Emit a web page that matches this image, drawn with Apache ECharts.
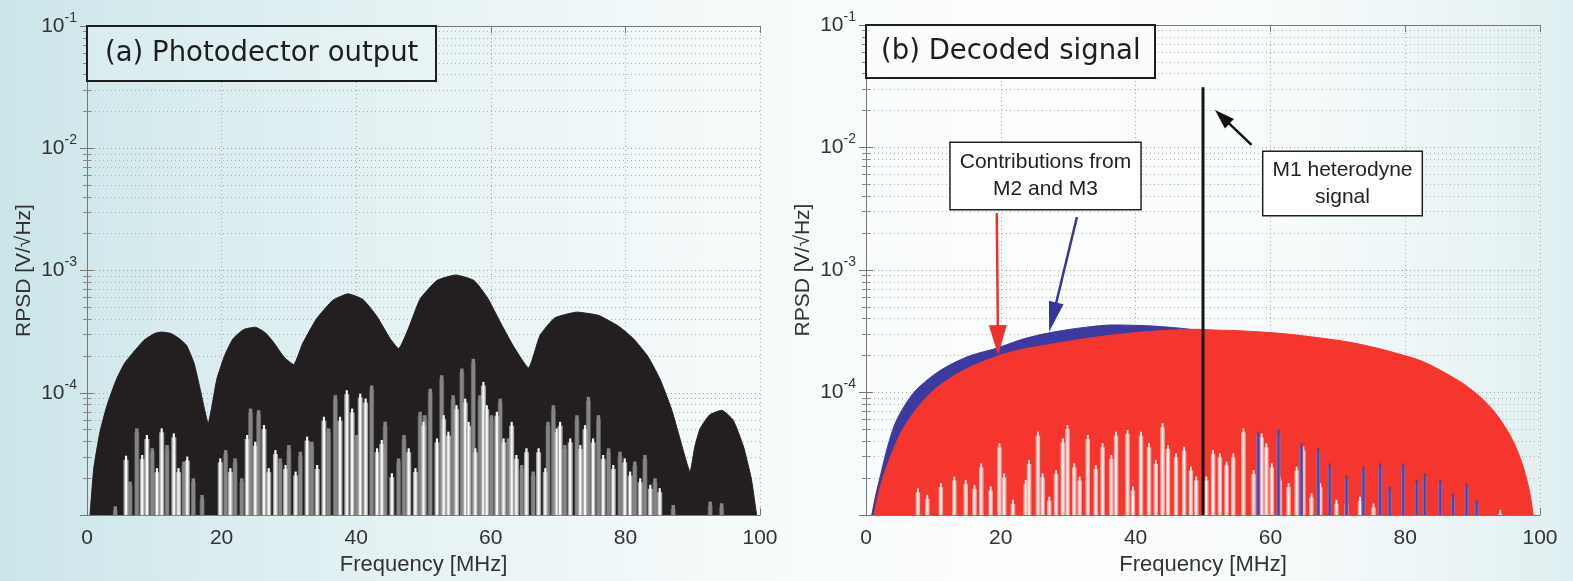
<!DOCTYPE html>
<html>
<head>
<meta charset="utf-8">
<script src="https://cdn.jsdelivr.net/npm/echarts@6/dist/echarts.min.js"></script>
<style>
  html, body { margin: 0; padding: 0; width: 1573px; height: 581px; overflow: hidden; }
  body {
    background: linear-gradient(90deg, #cbe5e9 0%, #d9ecef 12%, #e9f4f5 30%, #f7fbfb 48%, #fdfefe 65%, #f9fcfc 80%, #eaf4f5 93%, #dfeff1 100%);
  }
  #chart { width: 1573px; height: 581px; }
</style>
</head>
<body>
<div id="chart"></div>
<script>
// ---- axis settings ----
const freqMin = 0, freqMax = 100, freqStep = 20;
const psdMin = 1e-5, psdMax = 1e-1;
const yTickExponents = [-1, -2, -3, -4];

// ---- (a) photodetector output: peak envelope [MHz, V/sqrt(Hz)] ----
const envA = [
  [0.45, 1e-5], [1.0, 2.4e-5], [1.93, 4.8e-5], [3.0, 8e-5], [4.4, 1.3e-4], [5.6, 1.75e-4],
  [6.9, 2.15e-4], [8.5, 2.7e-4], [10, 3.05e-4], [11.1, 3.14e-4], [12.5, 3.05e-4], [13.8, 2.75e-4],
  [14.8, 2.44e-4], [15.9, 1.75e-4], [16.8, 1.08e-4], [17.5, 7.2e-5], [18.0, 5.6e-5], [18.6, 8e-5],
  [19.3, 1.3e-4], [20.5, 2.05e-4], [21.7, 2.77e-4], [23.3, 3.3e-4], [25.0, 3.44e-4], [26.5, 3.1e-4],
  [27.7, 2.6e-4], [29.3, 1.95e-4], [30.7, 1.7e-4], [32.0, 2.5e-4], [34.1, 4.03e-4], [36.5, 5.7e-4],
  [38.8, 6.45e-4], [41.0, 5.8e-4], [43.0, 4.28e-4], [45.0, 2.8e-4], [46.3, 2.3e-4], [47.8, 3.4e-4],
  [49.5, 5.86e-4], [52, 8.3e-4], [54.8, 9.2e-4], [57.5, 8.3e-4], [59.5, 6e-4], [61.4, 3.79e-4],
  [63.3, 2.44e-4], [65.6, 1.6e-4], [67.3, 2.94e-4], [69.5, 4.1e-4], [72.8, 4.57e-4], [76, 4.3e-4],
  [79, 3.5e-4], [81.2, 2.77e-4], [83.3, 2.0e-4], [85.1, 1.31e-4], [86.8, 7.5e-5], [88.1, 4.24e-5],
  [89.6, 2.27e-5], [90.3, 3.6e-5], [91.1, 5.1e-5], [92.5, 6.6e-5], [94.3, 7.2e-5], [96.0, 6.0e-5],
  [97.5, 3.7e-5], [98.7, 2e-5], [99.5, 1e-5]
];

// (a) spectral minima: grey and white dips reaching up from the floor
const dipsGreyA = [
  [4.2, 1.18e-5], [6.4, 1.88e-5], [7.4, 5.12e-5], [9.7, 3.52e-5], [11.9, 3.74e-5], [14.4, 2.74e-5],
  [15.8, 2.0e-5], [17.1, 1.46e-5], [20.6, 3.4e-5], [22.0, 2.91e-5], [23.0, 2.0e-5], [24.3, 7.44e-5],
  [25.5, 7.21e-5], [28.7, 2.91e-5], [30.0, 3.74e-5], [31.7, 3.3e-5], [33.4, 3.98e-5], [35.9, 5.12e-5],
  [36.9, 9.55e-5], [40.1, 4.52e-5], [42.3, 1.15e-4], [44.3, 5.8e-5], [46.3, 2.91e-5], [47.1, 4.52e-5],
  [49.5, 7.0e-5], [50.2, 6.56e-5], [51.0, 1.08e-4], [52.7, 1.39e-4], [54.4, 9.55e-5], [55.7, 1.58e-4],
  [57.4, 1.9e-4], [58.4, 9.55e-5], [60.1, 6.56e-5], [61.4, 8.97e-5], [62.6, 4.24e-5], [64.6, 2.57e-5],
  [66.3, 2.27e-5], [68.5, 5.79e-5], [69.3, 7.92e-5], [71.0, 3.74e-5], [72.8, 6.56e-5], [74.5, 9.27e-5],
  [76.0, 6.56e-5], [77.5, 3.52e-5], [79.2, 3.3e-5], [81.4, 2.74e-5], [82.9, 3.1e-5], [84.4, 2.0e-5],
  [87.1, 1.21e-5], [92.6, 1.29e-5], [94.3, 1.25e-5]
];
const dipsWhiteA = [
  [5.8, 3.06e-5], [8.2, 3.1e-5], [8.9, 4.52e-5], [10.4, 2.42e-5], [11.1, 5.12e-5], [12.9, 4.66e-5],
  [13.6, 2.42e-5], [14.9, 3.01e-5], [19.8, 2.91e-5], [21.3, 2.42e-5], [23.8, 4.52e-5], [25.0, 3.98e-5],
  [26.3, 5.45e-5], [27.0, 2.42e-5], [28.0, 3.4e-5], [29.5, 2.57e-5], [31.0, 2.27e-5], [32.7, 4.38e-5],
  [34.2, 2.57e-5], [35.2, 6.37e-5], [37.6, 6.37e-5], [38.6, 1.05e-4], [39.4, 7.44e-5], [40.6, 9.86e-5],
  [41.4, 8.98e-5], [43.1, 3.52e-5], [43.8, 4.11e-5], [45.3, 2.2e-5], [47.8, 3.52e-5], [48.8, 2.42e-5],
  [50.0, 5.8e-5], [52.0, 4.24e-5], [53.0, 6.56e-5], [53.7, 4.81e-5], [54.9, 7.92e-5], [56.2, 8.97e-5],
  [56.7, 5.79e-5], [57.7, 3.52e-5], [58.9, 1.23e-4], [59.4, 7.92e-5], [60.9, 7.0e-5], [61.9, 4.24e-5],
  [63.1, 5.79e-5], [63.8, 3.1e-5], [65.3, 3.52e-5], [67.1, 3.52e-5], [68.1, 2.42e-5], [69.8, 5.12e-5],
  [70.3, 5.79e-5], [71.8, 4.24e-5], [73.3, 3.74e-5], [74.0, 5.44e-5], [75.2, 4.24e-5], [76.7, 3.1e-5],
  [78.2, 2.57e-5], [79.9, 2.91e-5], [80.7, 2.27e-5], [82.2, 2.0e-5], [83.7, 1.77e-5], [85.1, 1.66e-5]
];

// ---- (b) decoded signal ----
const envBlueB = [
  [0.85, 1e-5], [1.5, 1.5e-5], [2.1, 2.05e-5], [3.2, 3.6e-5], [4.55, 5.97e-5], [7.0, 9.85e-5],
  [9.5, 1.32e-4], [12.0, 1.63e-4], [15.5, 2.0e-4], [19.4, 2.3e-4], [23, 2.7e-4], [26.8, 3.04e-4],
  [31.5, 3.35e-4], [36.7, 3.56e-4], [42, 3.5e-4], [46.6, 3.35e-4], [50, 3.2e-4], [60, 2.9e-4],
  [70, 2.5e-4], [80, 1.9e-4], [90, 9e-5], [95, 4.5e-5], [98.5, 1e-5]
];
const envRedB = [
  [1.2, 1e-5], [2.0, 1.6e-5], [3.07, 2.48e-5], [5.0, 4.5e-5], [7.0, 6.76e-5], [9.5, 9.8e-5],
  [12.0, 1.26e-4], [15.5, 1.62e-4], [19.6, 1.99e-4], [23, 2.24e-4], [26.8, 2.44e-4], [31.5, 2.7e-4],
  [36.7, 2.95e-4], [42, 3.15e-4], [49.1, 3.28e-4], [51.5, 3.24e-4], [56, 3.18e-4], [61.4, 3.04e-4],
  [66, 2.85e-4], [71.3, 2.6e-4], [75, 2.36e-4], [78.7, 2.09e-4], [82.5, 1.8e-4], [86.1, 1.43e-4],
  [88.7, 1.17e-4], [91.1, 9.25e-5], [93.2, 7e-5], [95.1, 4.94e-5], [96.4, 3.6e-5], [97.5, 2.48e-5],
  [98.4, 1.6e-5], [99.0, 1e-5]
];
const dipsWhiteB = [
  [7.7, 1.65e-5], [9.1, 1.46e-5], [11.1, 1.82e-5], [13.1, 2.06e-5], [14.8, 1.93e-5], [16.1, 1.76e-5],
  [17.1, 2.64e-5], [18.5, 1.71e-5], [19.8, 3.85e-5], [20.5, 2.19e-5], [21.8, 1.33e-5], [23.7, 1.93e-5],
  [24.2, 2.81e-5], [25.5, 4.79e-5], [26.2, 2.19e-5], [27.2, 1.41e-5], [28.2, 2.33e-5], [29.2, 4.22e-5],
  [29.9, 5.43e-5], [30.9, 2.64e-5], [31.7, 2.06e-5], [32.9, 4.5e-5], [34.1, 2.56e-5], [35.1, 3.85e-5],
  [36.4, 3.09e-5], [37.1, 4.79e-5], [38.8, 4.94e-5], [39.6, 1.71e-5], [40.8, 4.79e-5], [42.0, 3.85e-5],
  [43.0, 2.81e-5], [44.0, 5.61e-5], [44.8, 3.73e-5], [46.0, 3.19e-5], [47.2, 3.61e-5], [48.2, 2.48e-5],
  [49.0, 2.06e-5], [50.5, 2.06e-5], [51.5, 3.4e-5], [52.5, 3.19e-5], [53.5, 2.73e-5], [54.5, 3.19e-5],
  [56.0, 5.1e-5], [57.5, 2.33e-5], [58.7, 4.64e-5], [59.4, 3.85e-5], [60.2, 2.64e-5], [61.4, 2.06e-5],
  [62.7, 1.82e-5], [63.9, 2.48e-5], [64.9, 3.61e-5], [66.1, 1.5e-5], [67.4, 1.82e-5], [69.8, 1.33e-5],
  [71.3, 1.33e-5], [73.3, 1.41e-5], [75.3, 1.24e-5], [94.1, 1.1e-5]
];
const dipsBlueB = [
  [58.2, 4.79e-5], [61.2, 4.94e-5], [64.6, 3.85e-5], [67.1, 3.5e-5], [68.8, 2.64e-5], [71.3, 2.12e-5],
  [73.8, 2.48e-5], [76.3, 2.64e-5], [77.7, 1.71e-5], [79.7, 2.64e-5], [81.7, 1.93e-5], [82.9, 2.19e-5],
  [85.2, 1.93e-5], [87.1, 1.5e-5], [89.1, 1.82e-5], [90.6, 1.33e-5]
];
// M1 heterodyne carrier
const m1Peak = [[50, 3.1e-2]];

// ---- fonts / colours ----
const SANS = '"Liberation Sans", Arial, sans-serif';
const TXT = '#333';

const chart = echarts.init(document.getElementById('chart'), null, { renderer: 'canvas' });

const gridBoxes = [
  { left: 87, top: 26, width: 673, height: 491 },
  { left: 866, top: 25, width: 674, height: 490 }
];

function xAxisFor(i, top) {
  return {
    type: 'value', gridIndex: i, min: freqMin, max: freqMax, interval: freqStep,
    position: top ? 'top' : 'bottom',
    name: top ? '' : 'Frequency [MHz]', nameLocation: 'middle', nameGap: 34,
    nameTextStyle: { fontFamily: SANS, fontSize: 22, color: TXT },
    axisLine: { show: true, lineStyle: { color: '#777', width: 1 } },
    axisTick: { show: true, inside: true, length: 7, lineStyle: { color: '#777' } },
    axisLabel: { show: !top, fontFamily: SANS, fontSize: 21, color: TXT, margin: 13 },
    splitLine: { show: !top, lineStyle: { color: '#a8a8a8', width: 1, type: [1, 3] } }
  };
}
function yAxisFor(i, right) {
  return {
    type: 'log', logBase: 10, gridIndex: i, min: psdMin, max: psdMax,
    position: right ? 'right' : 'left',
    name: right ? '' : 'RPSD [V/\u221AHz]', nameLocation: 'middle', nameGap: 52, nameRotate: 90,
    nameTextStyle: { fontFamily: SANS, fontSize: 21, color: TXT },
    axisLine: { show: true, lineStyle: { color: '#777', width: 1 } },
    axisTick: { show: true, inside: true, length: 7, lineStyle: { color: '#777' } },
    minorTick: { show: true, splitNumber: 9, length: 4, lineStyle: { color: '#888' } },
    axisLabel: {
      show: !right, margin: 10,
      formatter: function (v) {
        const e = Math.round(Math.log10(v));
        return yTickExponents.indexOf(e) >= 0 ? '{b|10}{s|' + e + '}' : '';
      },
      rich: {
        b: { fontFamily: SANS, fontSize: 21, color: TXT, lineHeight: 22 },
        s: { fontFamily: SANS, fontSize: 14, color: TXT, lineHeight: 14, padding: [0, 0, 12, 0], verticalAlign: 'bottom' }
      }
    },
    splitLine: { show: !right, lineStyle: { color: '#a0a0a0', width: 1, type: [1, 3] } },
    minorSplitLine: { show: !right, lineStyle: { color: '#b0b0b0', width: 1, type: [1, 3] } }
  };
}

// thin vertical strokes from the axis floor up to each value, with a soft halo
function dipSeries(idx, data, color, w, z, halo, haloW) {
  return {
    type: 'custom', xAxisIndex: idx, yAxisIndex: idx, data: data, z: z, silent: true,
    encode: { x: 0, y: 1 },
    renderItem: function (params, api) {
      const p = api.coord([api.value(0), api.value(1)]);
      const base = params.coordSys.y + params.coordSys.height;
      const children = [];
      if (halo) {
        children.push({
          type: 'rect',
          shape: { x: p[0] - haloW / 2, y: p[1] + 4, width: haloW, height: Math.max(0, base - p[1] - 4) },
          style: { fill: halo }
        });
      }
      children.push({
        type: 'rect',
        shape: { x: p[0] - w / 2, y: p[1], width: w, height: base - p[1] },
        style: { fill: color }
      });
      return { type: 'group', children: children };
    }
  };
}
function areaSeries(idx, data, color, z, smooth) {
  return {
    type: 'line', xAxisIndex: idx, yAxisIndex: idx, data: data, z: z, silent: true,
    showSymbol: false, smooth: smooth,
    lineStyle: { color: color, width: 1 },
    areaStyle: { color: color, opacity: 1, origin: 'start' }
  };
}

const option = {
  animation: false,
  backgroundColor: 'transparent',
  title: [
    {
      text: '(a) Photodector output', left: 87, top: 26, padding: [12, 18],
      borderColor: '#1e1e1e', borderWidth: 2,
      backgroundColor: { type: 'linear', x: 0, y: 0, x2: 1, y2: 0,
        colorStops: [{ offset: 0, color: '#d9ecef' }, { offset: 1, color: '#e9f4f5' }] },
      textStyle: { fontFamily: '"DejaVu Sans", sans-serif', fontSize: 27.5, fontWeight: 'normal', color: '#1e1e1e', lineHeight: 31 }
    },
    {
      text: '(b) Decoded signal', left: 866, top: 25, padding: [11, 15],
      borderColor: '#1e1e1e', borderWidth: 2, backgroundColor: '#fbfdfd',
      textStyle: { fontFamily: '"DejaVu Sans", sans-serif', fontSize: 27.5, fontWeight: 'normal', color: '#1e1e1e', lineHeight: 31 }
    }
  ],
  grid: gridBoxes.map(g => Object.assign({ containLabel: false }, g)),
  xAxis: [xAxisFor(0, false), xAxisFor(1, false), xAxisFor(0, true), xAxisFor(1, true)],
  yAxis: [yAxisFor(0, false), yAxisFor(1, false), yAxisFor(0, true), yAxisFor(1, true)],
  series: [
    areaSeries(0, envA, '#231f20', 2, 0.15),
    dipSeries(0, dipsGreyA, '#858585', 3.5, 3, '#555', 5),
    dipSeries(0, dipsWhiteA, '#f4f6f6', 2.2, 4, '#a9a9a9', 5),

    areaSeries(1, envBlueB, '#3b3a9f', 2, 0.3),
    Object.assign(areaSeries(1, envRedB, '#f4362f', 3, 0.3), {
      markLine: {
        silent: true, animation: false, label: { show: false }, symbol: ['none', 'triangle'],
        data: [
          [{ coord: [19.4, 2.92e-3], lineStyle: { color: '#f0302a', width: 2.5, type: 'solid' } },
           { coord: [19.58, 2.68e-4], symbol: 'triangle', symbolSize: [18, 30], itemStyle: { color: '#f0302a' } }],
          [{ coord: [31.3, 2.71e-3], lineStyle: { color: '#3535a0', width: 2.5, type: 'solid' } },
           { coord: [27.7, 4.12e-4], symbol: 'triangle', symbolSize: [15, 30], itemStyle: { color: '#3535a0' } }],
          [{ coord: [57.2, 1.05e-2], lineStyle: { color: '#111', width: 2.5, type: 'solid' } },
           { coord: [52.85, 1.78e-2], symbol: 'triangle', symbolSize: [13, 20], itemStyle: { color: '#111' } }]
        ]
      }
    }),
    dipSeries(1, dipsWhiteB, '#fff4f3', 1.8, 4, '#f7a6a0', 4.5),
    dipSeries(1, dipsBlueB, '#4645a8', 2, 5, '#8a6fb5', 4),
    dipSeries(1, m1Peak, '#141414', 3, 6)
  ],
  graphic: [
    {
      type: 'text', x: 1045.5, y: 176, z: 100,
      style: {
        text: 'Contributions from\nM2 and M3', font: '21px ' + SANS, fill: '#222',
        align: 'center', verticalAlign: 'middle', lineHeight: 27,
        backgroundColor: '#ffffff', borderColor: '#222', borderWidth: 1.5, padding: [6, 9]
      }
    },
    {
      type: 'text', x: 1342.5, y: 183.5, z: 100,
      style: {
        text: 'M1 heterodyne\nsignal', font: '21px ' + SANS, fill: '#222',
        align: 'center', verticalAlign: 'middle', lineHeight: 27,
        backgroundColor: '#ffffff', borderColor: '#222', borderWidth: 1.5, padding: [4.5, 9]
      }
    }
  ]
};

chart.setOption(option);
</script>
</body>
</html>
